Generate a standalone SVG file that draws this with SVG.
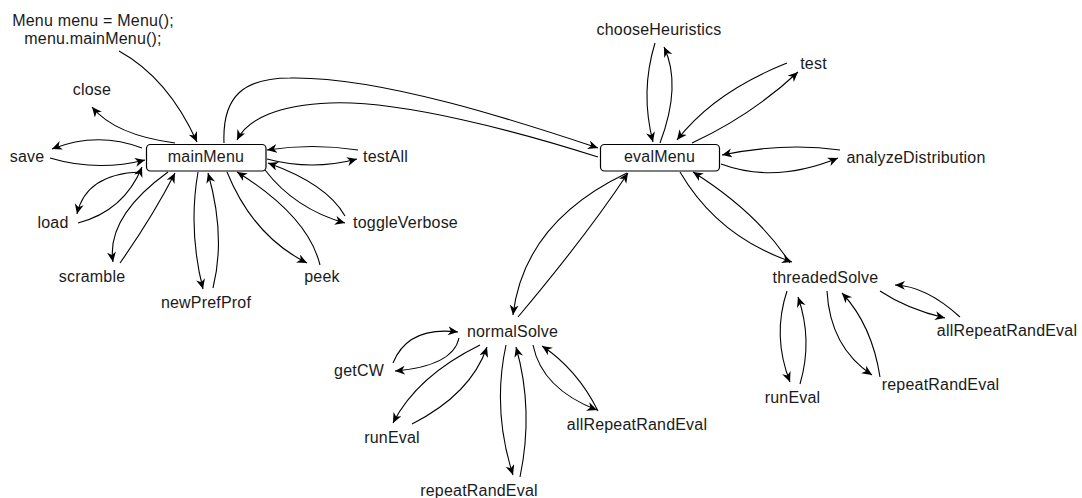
<svg xmlns="http://www.w3.org/2000/svg" width="1082" height="498" viewBox="0 0 1082 498">
<style>
text{font-family:"Liberation Sans",Arial,Helvetica,sans-serif;font-size:16px;fill:#1a1a1a;text-anchor:middle;letter-spacing:0.2px}
.box{fill:#fff;stroke:#000;stroke-width:1.2}
.e path{fill:none;stroke:#000;stroke-width:1.1;marker-end:url(#ah)}
</style>
<defs>
<marker id="ah" markerUnits="userSpaceOnUse" markerWidth="12" markerHeight="11" refX="10" refY="4.5" orient="auto">
<path d="M0,0 L10,4.5 L0,9 L3,4.5 z" fill="#000"/>
</marker>
</defs>
<rect width="1082" height="498" fill="#fff"/>
<g id="connectors" class="e">
<path d="M119,51 Q168,78 197,142"/>
<path d="M175,143 Q115,135 92,107"/>
<path d="M142,148 Q97,131 52,149"/>
<path d="M50,158 Q97,172 145,160"/>
<path d="M140,172 Q86,174 77,214"/>
<path d="M78,223 Q124,211 142,167"/>
<path d="M168,172 Q106,217 113,262"/>
<path d="M120,263 Q153,216 175,173"/>
<path d="M198,172 Q188,230 203,289"/>
<path d="M213,288 Q226,236 208,173"/>
<path d="M227,172 Q253,236 307,263"/>
<path d="M320,265 Q308,216 237,172"/>
<path d="M265,170 Q295,209 345,223"/>
<path d="M345,216 Q327,184 268,163"/>
<path d="M358,150 Q312,143 267,150"/>
<path d="M267,159 Q312,171 357,159"/>
<path d="M224,143 C222,95 245,78 290,78 C380,76 520,122 598,148"/>
<path d="M598,157 C520,132 400,100 330,103 C280,105 248,118 237,140"/>
<path d="M655,43 Q640,92 653,142"/>
<path d="M660,143 Q682,85 664,47"/>
<path d="M787,63 Q714,92 677,140"/>
<path d="M692,143 Q752,115 798,72"/>
<path d="M840,150 Q785,142 722,155"/>
<path d="M721,164 Q775,184 838,158"/>
<path d="M680,172 Q718,237 792,262"/>
<path d="M790,263 Q758,213 693,172"/>
<path d="M627,173 Q524,222 513,315"/>
<path d="M518,317 Q587,235 628,173"/>
<path d="M393,363 Q408,326 458,332"/>
<path d="M459,338 Q453,366 395,371"/>
<path d="M480,345 Q417,376 393,423"/>
<path d="M412,424 Q471,394 487,347"/>
<path d="M506,345 Q492,410 513,475"/>
<path d="M520,477 Q534,410 516,347"/>
<path d="M533,345 Q542,389 597,410"/>
<path d="M598,411 Q577,369 542,346"/>
<path d="M787,291 Q772,336 790,382"/>
<path d="M800,384 Q813,340 798,297"/>
<path d="M827,291 Q830,347 872,375"/>
<path d="M880,377 Q872,325 842,293"/>
<path d="M880,291 Q907,309 945,318"/>
<path d="M960,317 Q926,286 895,285"/>
</g>
<g id="init"><text x="93" y="26">Menu menu = Menu();</text><text x="93" y="43.5">menu.mainMenu();</text></g>
<g id="close"><text x="92" y="95">close</text></g>
<g id="save"><text x="27" y="162">save</text></g>
<g id="mainMenu"><rect class="box" x="146.5" y="144.5" width="119.5" height="26.5" rx="4"/><text x="206" y="161.5">mainMenu</text></g>
<g id="testAll"><text x="385.5" y="162">testAll</text></g>
<g id="load"><text x="53" y="228">load</text></g>
<g id="toggleVerbose"><text x="405.5" y="228">toggleVerbose</text></g>
<g id="scramble"><text x="92" y="282">scramble</text></g>
<g id="peek"><text x="322" y="282">peek</text></g>
<g id="newPrefProf"><text x="206" y="308">newPrefProf</text></g>
<g id="evalMenu"><rect class="box" x="600.5" y="144.5" width="119" height="26.5" rx="4"/><text x="659.5" y="161.5">evalMenu</text></g>
<g id="chooseHeuristics"><text x="659" y="35">chooseHeuristics</text></g>
<g id="test"><text x="813.5" y="68.5">test</text></g>
<g id="analyzeDistribution"><text x="916" y="162.5">analyzeDistribution</text></g>
<g id="threadedSolve"><text x="825.5" y="283">threadedSolve</text></g>
<g id="normalSolve"><text x="512.5" y="337">normalSolve</text></g>
<g id="getCW"><text x="359" y="376">getCW</text></g>
<g id="runEvalN"><text x="392" y="443">runEval</text></g>
<g id="repeatRandEvalN"><text x="479" y="495.5">repeatRandEval</text></g>
<g id="allRepeatRandEvalN"><text x="637" y="429.5">allRepeatRandEval</text></g>
<g id="runEvalT"><text x="792.5" y="402.5">runEval</text></g>
<g id="repeatRandEvalT"><text x="940.5" y="389.5">repeatRandEval</text></g>
<g id="allRepeatRandEvalT"><text x="1007" y="336">allRepeatRandEval</text></g>
</svg>
